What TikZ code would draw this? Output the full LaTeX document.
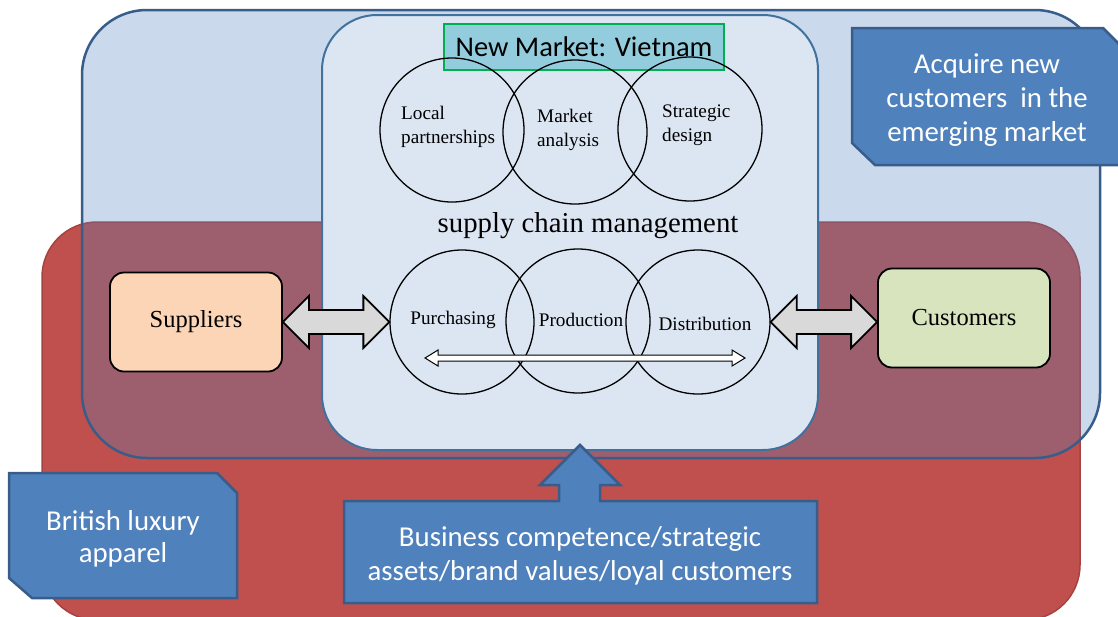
\documentclass[tikz,border=0pt]{standalone}
\usepackage{fontspec}
\setmainfont{Liberation Serif}
\newfontfamily\calfont{Carlito}
\usetikzlibrary{calc}
\definecolor{redfill}{HTML}{C0504D}
\definecolor{redline}{HTML}{A6423F}
\definecolor{bluefill}{HTML}{4F81BD}
\definecolor{blueline}{HTML}{385D8A}
\definecolor{panelfill}{HTML}{DCE6F2}
\definecolor{panelline}{HTML}{41719C}
\definecolor{titlefill}{HTML}{93CDDD}
\definecolor{titleline}{HTML}{00B050}
\definecolor{supfill}{HTML}{FBD5B5}
\definecolor{cusfill}{HTML}{D7E4BD}
\definecolor{arrgray}{HTML}{D9D9D9}
\tikzset{
  redbox/.style={fill=redfill,draw=redline,line width=1.5pt},
  bigblue/.style={fill=bluefill,fill opacity=0.3,draw=blueline,line width=2.5pt},
  panel/.style={fill=panelfill,draw=panelline,line width=2pt},
  titlebox/.style={fill=titlefill,draw=titleline,line width=2pt,minimum width=280pt,minimum height=46pt,inner sep=0pt,font=\calfont\fontsize{28.5}{30}\selectfont},
  venn/.style={circle,draw=black,line width=1.3pt,minimum size=144pt,inner sep=0pt},
  vtext/.style={align=left,inner sep=0pt,font=\fontsize{19.2}{23.5}\selectfont},
  actor/.style={rounded corners=14pt,draw=black,line width=1.8pt,minimum width=172pt,minimum height=99pt,inner sep=0pt,font=\fontsize{24.5}{28}\selectfont},
  grayarr/.style={fill=arrgray,draw=black,line width=1.8pt,line join=miter},
  whitearr/.style={fill=white,draw=black,line width=1pt},
  callout/.style={fill=bluefill,draw=blueline,line width=2.5pt,line join=miter},
  callouttext/.style={align=center,text=white,inner sep=0pt,font=\calfont\fontsize{28.8}{34}\selectfont},
}
\begin{document}
\begin{tikzpicture}[x=1pt,y=-1pt]
\useasboundingbox (0,0) rectangle (1118,616);
\clip (0,0) rectangle (1118,616);
% background regions
\draw[redbox,rounded corners=55pt] (42,222) rectangle (1080,620);
\draw[bigblue,rounded corners=65pt] (82,10) rectangle (1100,458);
\draw[panel,rounded corners=55pt] (322,15) rectangle (818,450);
% title
\node[titlebox] (title) at (584,47) {New Market: Vietnam};
% upper circles
\node[venn] (c1) at (452,130) {};
\node[venn] (c2) at (575,132) {};
\node[venn] (c3) at (690,129) {};
\node[vtext,anchor=west] (t1) at (401,127) {Local\\partnerships};
\node[vtext,anchor=west] (t2) at (537,130) {Market\\analysis};
\node[vtext,anchor=west] (t3) at (662,125) {Strategic\\design};
% supply chain
\node[font=\fontsize{28.8}{32}\selectfont,inner sep=0pt] (scm) at (588,226) {supply chain management};
\node[venn] (c4) at (462,322) {};
\node[venn] (c5) at (578,321) {};
\node[venn] (c6) at (698,322) {};
\node[vtext] (t4) at (453,320) {Purchasing};
\node[vtext] (t5) at (581,320) {Production};
\node[vtext] (t6) at (705,324) {Distribution};
% flow arrow inside
\coordinate (wl) at (425,358);
\coordinate (wr) at (745,358);
\draw[whitearr] (wl) -- ++(13,-8) -- ++(0,5) -- ($(wr)+(-13,-3)$) -- ++(0,-5) -- (wr)
  -- ++(-13,8) -- ++(0,-5) -- ($(wl)+(13,3)$) -- ++(0,5) -- cycle;
% actors
\node[actor,fill=supfill] (sup) at (196,322) {Suppliers};
\node[actor,fill=cusfill] (cus) at (964,318) {Customers};
% double arrows
\draw[grayarr] (sup.east) -- ++(26,-26) -- ++(0,14) -- ($(c4.west)+(-26,-12)$) -- ++(0,-14) -- (c4.west)
  -- ++(-26,26) -- ++(0,-14) -- ($(sup.east)+(26,12)$) -- ++(0,14) -- cycle;
\draw[grayarr] (c6.east) -- ++(26,-26) -- ++(0,14) -- ($(cus.west|-c6.east)+(-26,-12)$) -- ++(0,-14) -- (cus.west|-c6.east)
  -- ++(-26,26) -- ++(0,-14) -- ($(c6.east)+(26,12)$) -- ++(0,14) -- cycle;
% callouts
\draw[callout] (852,28) -- (1103,28) -- (1125,50) -- (1125,165) -- (875,165) -- (852,143) -- cycle;
\node[callouttext] (acq) at (987,100) {Acquire new\\customers\ \ in the\\emerging market};
\draw[callout] (9,473) -- (217,473) -- (237,493) -- (237,598) -- (32,598) -- (9,578) -- cycle;
\node[callouttext,font=\calfont\fontsize{28.8}{32}\selectfont] (brit) at (123,539) {British luxury\\apparel};
\draw[callout] (344,501) -- (559,501) -- (559,485) -- (540,485) -- (580,445) -- (620,485)
  -- (600,485) -- (600,501) -- (817,501) -- (817,603) -- (344,603) -- cycle;
\node[callouttext] (bus) at (580,556) {Business competence/strategic\\assets/brand values/loyal customers};
\end{tikzpicture}
\end{document}
